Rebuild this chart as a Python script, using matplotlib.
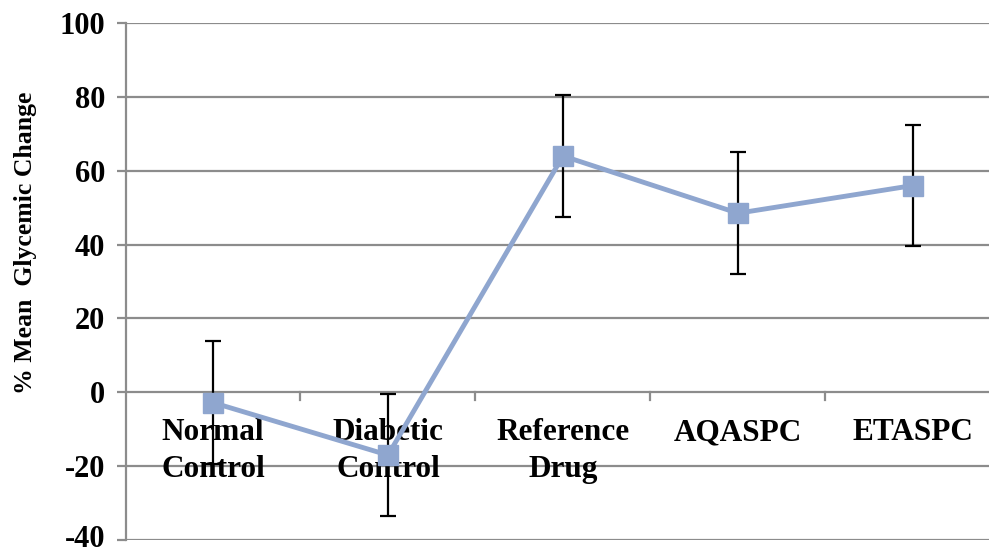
import matplotlib
matplotlib.use("Agg")
import matplotlib.pyplot as plt
import matplotlib.transforms as mtransforms
import numpy as np

categories = ["Normal\nControl", "Diabetic\nControl", "Reference\nDrug", "AQASPC", "ETASPC"]
values = [-2.8, -17.0, 64.0, 48.5, 56.0]
errors = [16.6, 16.6, 16.5, 16.5, 16.5]
yticks = [-40, -20, 0, 20, 40, 60, 80, 100]

plt.rcParams['font.family'] = ['Liberation Serif', 'DejaVu Serif']
plt.rcParams['font.weight'] = 'bold'

fig = plt.figure(figsize=(9.89, 5.52), dpi=100)
ax = fig.add_axes([0.1269, 0.0217, 0.8847, 0.9366])

x = np.arange(len(categories))
grid_c = '#8c8c8c'

ax.set_ylim(-40, 100)
ax.set_xlim(-0.5, len(categories) - 0.5)
ax.set_yticks(yticks)
ax.set_yticklabels([str(v) for v in yticks], fontsize=22, fontweight='bold')
for v in yticks:
    ax.axhline(v, color=grid_c, lw=1.6, zorder=1)

for s in ['top', 'right', 'bottom']:
    ax.spines[s].set_visible(False)
ax.spines['left'].set_color(grid_c)
ax.spines['left'].set_linewidth(1.6)
ax.tick_params(axis='y', length=6.5, width=1.6, color=grid_c, pad=8)

# nudge the lowest tick label up so it stays inside the figure
lowest = ax.get_yticklabels()[0]
lowest.set_transform(lowest.get_transform() +
                     mtransforms.ScaledTranslation(0, 3 / 72, fig.dpi_scale_trans))

# x axis at y=0
ax.set_xticks(x)
ax.set_xticklabels([])
ax.tick_params(axis='x', which='both', length=0)
for b in np.arange(0.5, len(categories) - 0.5, 1):
    ax.plot([b, b], [0, -2.2], color=grid_c, lw=1.6, zorder=1, clip_on=False)

for xi, lab in zip(x, categories):
    ax.text(xi, -7.0, lab, ha='center', va='top', fontsize=22.5, fontweight='bold',
            linespacing=1.36, zorder=2)

ax.errorbar(x, values, yerr=errors, fmt='none', ecolor='black', elinewidth=1.6,
            capsize=6, capthick=1.6, zorder=3)
ax.plot(x, values, color='#8fa6cf', lw=3.5, marker='s', markersize=14,
        markerfacecolor='#8fa6cf', markeredgecolor='#8fa6cf', zorder=4)

fig.text(0.026, 0.56, "% Mean  Glycemic Change", rotation=90, ha='center', va='center',
         fontsize=18.5, fontweight='bold')

fig.savefig("out.png", dpi=100)
